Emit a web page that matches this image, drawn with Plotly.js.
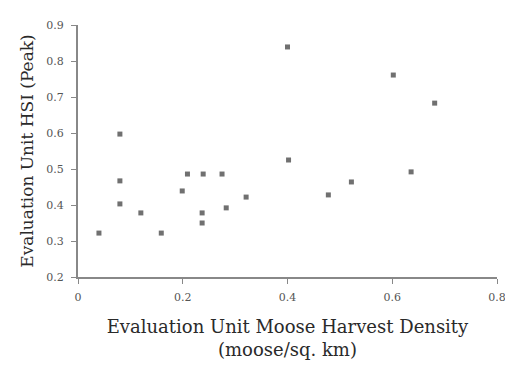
<!DOCTYPE html>
<html><head><meta charset="utf-8">
<script src="https://cdn.plot.ly/plotly-3.0.1.min.js"></script>
<style>html,body{margin:0;padding:0;background:#fff;}#chart{width:505px;height:368px;}</style>
</head><body><div id="chart"></div>
<script>
const harvestDensity = [0.080,0.080,0.080,0.120,0.040,0.159,0.209,0.239,0.275,0.199,0.321,0.237,0.283,0.237,0.400,0.402,0.522,0.478,0.602,0.681,0.636];
const hsiPeak       = [0.597,0.467,0.403,0.378,0.322,0.322,0.486,0.486,0.486,0.439,0.422,0.378,0.392,0.350,0.839,0.525,0.464,0.428,0.761,0.683,0.492];
const xTickVals = [0,0.2,0.4,0.6,0.8];
const xTickText = ['0','0.2','0.4','0.6','0.8'];
const yTickVals = [0.2,0.3,0.4,0.5,0.6,0.7,0.8,0.9];
const yTickText = ['0.2','0.3','0.4','0.5','0.6','0.7','0.8','0.9'];

const font = "'DejaVu Serif', 'Liberation Serif', serif";
Plotly.newPlot('chart', [{
  x: harvestDensity, y: hsiPeak, type: 'scatter', mode: 'markers',
  marker: {symbol: 'square', size: 5, color: '#707070'}, hoverinfo: 'none'
}], {
  width: 505, height: 368,
  margin: {l: 78, r: 8, t: 25, b: 91},
  paper_bgcolor: '#fff', plot_bgcolor: '#fff',
  showlegend: false,
  font: {family: font, color: '#333'},
  xaxis: {
    range: [0, 0.8], tickvals: xTickVals, ticktext: xTickText,
    showgrid: false, zeroline: false, showline: true, linecolor: '#888', linewidth: 2,
    ticks: 'outside', ticklen: 5, tickcolor: '#888', ticklabelstandoff: 4,
    ticklabeloverflow: 'allow', automargin: false,
    tickfont: {family: font, size: 11, color: '#555'},
    title: {text: 'Evaluation Unit Moose Harvest Density<br>(moose/sq. km)', font: {family: font, size: 18, color: '#2a2a2a'}, standoff: 17}
  },
  yaxis: {
    range: [0.2, 0.9], tickvals: yTickVals, ticktext: yTickText,
    showgrid: false, zeroline: false, showline: true, linecolor: '#888', linewidth: 2,
    ticks: 'outside', ticklen: 5, tickcolor: '#888', ticklabelstandoff: 5,
    tickfont: {family: font, size: 11, color: '#555'},
    title: {text: 'Evaluation Unit HSI (Peak)', font: {family: font, size: 17, color: '#2a2a2a'}, standoff: 8}
  }
}, {staticPlot: true});
</script></body></html>
